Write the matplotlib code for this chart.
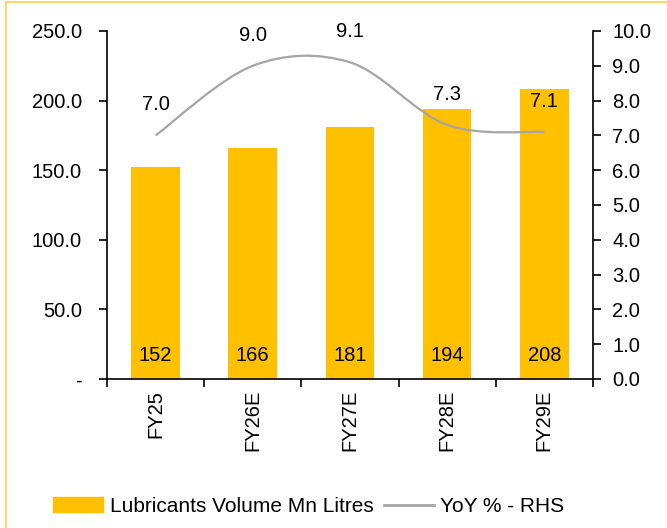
import numpy as np
import matplotlib

matplotlib.use("Agg")
import matplotlib.pyplot as plt
from matplotlib.path import Path
from matplotlib.patches import PathPatch
from matplotlib.lines import Line2D

plt.rcParams["font.family"] = ["Liberation Sans", "DejaVu Sans"]
plt.rcParams["font.size"] = 14.5

years = ["FY25", "FY26E", "FY27E", "FY28E", "FY29E"]
volume = [152, 166, 181, 194, 208]
yoy = [7.0, 9.0, 9.1, 7.3, 7.1]

gold = "#FFC000"
grey = "#A5A5A5"

fig = plt.figure(figsize=(6.67, 5.28), dpi=100)
ax = fig.add_axes([0.1604, 0.2822, 0.7286, 0.6591])
ax2 = ax.twinx()

x = np.arange(len(years))
ax.bar(x, volume, width=0.5, color=gold, zorder=2, label="Lubricants Volume Mn Litres")
for xi, v in zip(x, volume):
    ax.annotate(str(v), (xi, 0), xytext=(0, 17), textcoords="offset points",
                ha="center", va="center", zorder=5)

# Smoothed line like Excel: Bezier segments through each point.
verts = [(x[0], yoy[0])]
codes = [Path.MOVETO]
n = len(yoy)
for i in range(n - 1):
    x0, y0 = (x[i - 1], yoy[i - 1]) if i > 0 else (x[i], yoy[i])
    x1, y1 = x[i], yoy[i]
    x2, y2 = x[i + 1], yoy[i + 1]
    x3, y3 = (x[i + 2], yoy[i + 2]) if i + 2 < n else (x2, y2)
    c1 = (x1 + (x2 - x0) / 6, y1 + (y2 - y0) / 6)
    c2 = (x2 - (x3 - x1) / 6, y2 - (y3 - y1) / 6)
    verts += [c1, c2, (x2, y2)]
    codes += [Path.CURVE4] * 3
ax2.add_patch(PathPatch(Path(verts, codes), facecolor="none", edgecolor=grey,
                        linewidth=1.6, zorder=3))
for xi, v in zip(x, yoy):
    ax2.annotate(f"{v:.1f}", (xi, v), xytext=(0, 22), textcoords="offset points",
                 ha="center", va="center")

ax.set_xlim(-0.5, len(years) - 0.5)
ax.set_ylim(0, 250)
ax2.set_ylim(0, 10)

ax.set_yticks(np.arange(0, 251, 50))
ax.set_yticklabels(["-"] + [f"{v:.1f}" for v in np.arange(50, 251, 50)])
ax2.set_yticks(np.arange(0, 11, 1))
ax2.set_yticklabels([f"{v:.1f}" for v in np.arange(0, 11, 1)])

ax.set_xticks(x)
ax.set_xticklabels(years, rotation=90)
ax.set_xticks(np.arange(-0.5, len(years)), minor=True)
ax.tick_params(axis="x", which="major", length=0, pad=8)
ax.tick_params(axis="x", which="minor", length=6, width=1.2, direction="out")
ax.tick_params(axis="y", length=6, width=1.2, direction="out", pad=12)
ax2.tick_params(axis="y", length=6, width=1.2, direction="out", pad=8)

for a in (ax, ax2):
    a.spines["top"].set_visible(False)
    for s in ("left", "right", "bottom"):
        a.spines[s].set_linewidth(1.2)
ax.spines["right"].set_visible(False)
ax2.spines["left"].set_visible(False)
ax2.spines["bottom"].set_visible(False)

handles = [plt.Rectangle((0, 0), 1, 1, color=gold),
           Line2D([0], [0], color=grey, linewidth=2)]
fig.legend(handles, ["Lubricants Volume Mn Litres", "YoY % - RHS"],
           loc="center", bbox_to_anchor=(0.463, 0.041), ncol=2, frameon=False,
           fontsize=15, handlelength=2.4, handleheight=0.7, handletextpad=0.3,
           columnspacing=0.5)

# Thin yellow frame round the chart
fig.add_artist(Line2D([6 / 667, 1.0], [1 - 2 / 528] * 2, color="#FFD34D", linewidth=1.2))
fig.add_artist(Line2D([6 / 667] * 2, [0.0, 1 - 2 / 528], color="#FFD34D", linewidth=1.2))

fig.savefig("out.png", dpi=100)
plt.close(fig)
